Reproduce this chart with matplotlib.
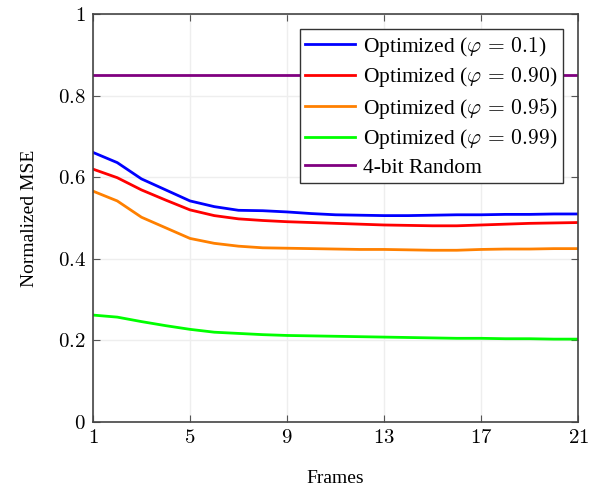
import matplotlib
matplotlib.use("Agg")
import matplotlib.pyplot as plt

plt.rcParams['font.family'] = ['Liberation Serif', 'DejaVu Serif']
plt.rcParams['mathtext.fontset'] = 'cm'

frames = list(range(1, 22))
phi_01 = [0.661, 0.636, 0.596, 0.569, 0.542, 0.528, 0.519, 0.518, 0.515, 0.511, 0.508,
          0.507, 0.506, 0.506, 0.507, 0.508, 0.508, 0.509, 0.509, 0.510, 0.510]
phi_090 = [0.620, 0.599, 0.569, 0.544, 0.520, 0.506, 0.498, 0.494, 0.491, 0.489, 0.487,
           0.485, 0.483, 0.482, 0.481, 0.481, 0.483, 0.485, 0.487, 0.488, 0.489]
phi_095 = [0.566, 0.542, 0.502, 0.476, 0.450, 0.438, 0.431, 0.427, 0.426, 0.425, 0.424,
           0.423, 0.423, 0.422, 0.421, 0.421, 0.423, 0.424, 0.424, 0.425, 0.425]
phi_099 = [0.262, 0.257, 0.246, 0.236, 0.227, 0.220, 0.217, 0.214, 0.212, 0.211, 0.210,
           0.209, 0.208, 0.207, 0.206, 0.205, 0.205, 0.204, 0.204, 0.203, 0.203]
random_4bit = [0.85] * len(frames)

fig = plt.figure(figsize=(5.96, 4.9), dpi=100)
ax = fig.add_axes([0.156, 0.139, 0.814, 0.832])

ax.plot(frames, phi_01, color='blue', lw=2, label=r'Optimized ($\varphi\,=\,0.1$)')
ax.plot(frames, phi_090, color='red', lw=2, label=r'Optimized ($\varphi\,=\,0.90$)')
ax.plot(frames, phi_095, color='#ff8000', lw=2, label=r'Optimized ($\varphi\,=\,0.95$)')
ax.plot(frames, phi_099, color='#00ff00', lw=2, label=r'Optimized ($\varphi\,=\,0.99$)')
ax.plot(frames, random_4bit, color='#800080', lw=2, label='4-bit Random')

ax.set_xlim(1, 21)
ax.set_ylim(0, 1)
ax.set_xticks([1, 5, 9, 13, 17, 21])
ax.set_yticks([0, 0.2, 0.4, 0.6, 0.8, 1])
ax.set_xticklabels(['$1$', '$5$', '$9$', '$13$', '$17$', '$21$'])
ax.set_yticklabels(['$0$', '$0.2$', '$0.4$', '$0.6$', '$0.8$', '$1$'])
ax.tick_params(direction='in', top=True, right=True, labelsize=15, length=5,
               color='#555555', pad=5)
ax.grid(True, color='#eeeeee', lw=1)
for s in ax.spines.values():
    s.set_color('#444444')
    s.set_linewidth(1.2)

ax.set_xlabel('Frames', fontsize=14, labelpad=16)
ax.set_ylabel('Normalized MSE', fontsize=14, labelpad=14)

leg = ax.legend(loc='upper right', fontsize=15.5, fancybox=False, edgecolor='#333333',
                framealpha=1, handlelength=2.3, handletextpad=0.4, labelspacing=0.3,
                borderaxespad=0.7, borderpad=0.25)
leg.get_frame().set_linewidth(1)

fig.savefig('out.png', dpi=100)
